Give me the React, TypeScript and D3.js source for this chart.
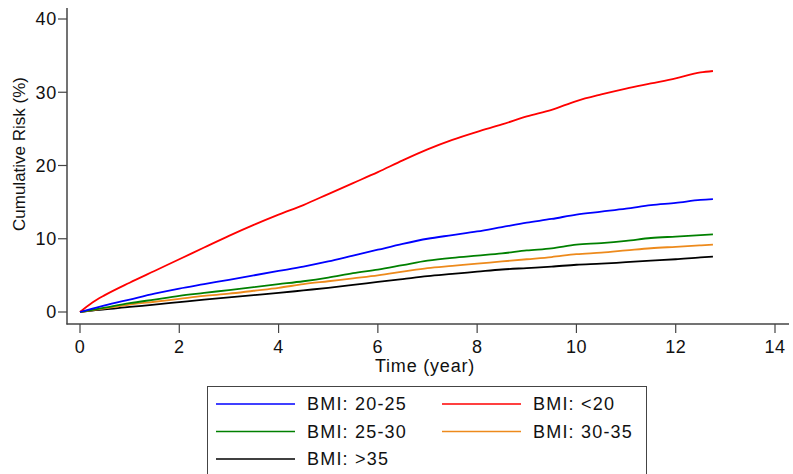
import { useEffect, useRef } from 'react';
import * as d3 from 'd3';

// follow-up time (years)
const times = [0, 0.25, 0.5, 1, 1.5, 2, 2.5, 3, 3.5, 4, 4.5, 5, 5.5, 6, 6.5, 7, 7.5, 8, 8.5, 9, 9.5, 10, 10.5, 11, 11.5, 12, 12.5, 12.75];

// cumulative risk (%) per BMI group
const bmiUnder20 = [0, 1.3, 2.3, 4.0, 5.6, 7.2, 8.8, 10.4, 11.9, 13.3, 14.6, 16.1, 17.6, 19.1, 20.7, 22.2, 23.5, 24.6, 25.6, 26.7, 27.6, 28.8, 29.7, 30.5, 31.2, 31.9, 32.7, 32.9];
const bmi20to25 = [0, 0.45, 0.9, 1.7, 2.5, 3.2, 3.8, 4.4, 5.0, 5.6, 6.2, 6.9, 7.7, 8.5, 9.3, 10.0, 10.5, 11.0, 11.6, 12.2, 12.7, 13.3, 13.7, 14.1, 14.6, 14.9, 15.3, 15.4];
const bmi25to30 = [0, 0.3, 0.6, 1.2, 1.7, 2.2, 2.6, 3.0, 3.4, 3.8, 4.2, 4.7, 5.3, 5.8, 6.4, 7.0, 7.4, 7.7, 8.0, 8.4, 8.7, 9.2, 9.4, 9.7, 10.1, 10.3, 10.5, 10.6];
const bmi30to35 = [0, 0.25, 0.5, 1.0, 1.4, 1.8, 2.2, 2.5, 2.9, 3.3, 3.8, 4.2, 4.6, 5.0, 5.5, 6.0, 6.3, 6.6, 6.9, 7.2, 7.5, 7.9, 8.1, 8.4, 8.7, 8.9, 9.1, 9.2];
const bmiOver35 = [0, 0.2, 0.35, 0.7, 1.0, 1.35, 1.7, 2.0, 2.3, 2.6, 2.95, 3.3, 3.7, 4.1, 4.5, 4.9, 5.2, 5.5, 5.8, 6.0, 6.2, 6.45, 6.6, 6.8, 7.0, 7.2, 7.45, 7.55];

const xTicks = [0, 2, 4, 6, 8, 10, 12, 14];
const yTicks = [0, 10, 20, 30, 40];

const series = [
  { label: 'BMI: 20-25', values: bmi20to25, color: '#0000ff' },
  { label: 'BMI: <20', values: bmiUnder20, color: '#ff0000' },
  { label: 'BMI: 25-30', values: bmi25to30, color: '#008000' },
  { label: 'BMI: 30-35', values: bmi30to35, color: '#ed8a1c' },
  { label: 'BMI: >35', values: bmiOver35, color: '#000000' },
];

const font = '"Liberation Sans", Arial, sans-serif';
const axisColor = '#444';

export default function App() {
  const svgRef = useRef<SVGSVGElement>(null);

  useEffect(() => {
    const svg = d3.select(svgRef.current);
    svg.selectAll('*').remove();

    const x = d3.scaleLinear().domain([0, 14]).range([80, 775]);
    const y = d3.scaleLinear().domain([0, 40]).range([312, 19]);

    // axes
    const g = svg.append('g').style('font-family', font);
    g.append('line')
      .attr('x1', 67).attr('x2', 67).attr('y1', 8).attr('y2', 324.5)
      .attr('stroke', axisColor).attr('stroke-width', 1.5);
    g.append('line')
      .attr('x1', 66.5).attr('x2', 789).attr('y1', 324).attr('y2', 324)
      .attr('stroke', axisColor).attr('stroke-width', 1.5);

    yTicks.forEach(t => {
      g.append('line')
        .attr('x1', 58).attr('x2', 67).attr('y1', y(t)).attr('y2', y(t))
        .attr('stroke', axisColor).attr('stroke-width', 1.2);
      g.append('text')
        .attr('x', 57).attr('y', y(t)).attr('dy', '0.36em')
        .attr('text-anchor', 'end')
        .style('font-size', '18px').style('letter-spacing', '0.8px').attr('fill', '#111')
        .text(t);
    });

    xTicks.forEach(t => {
      g.append('text')
        .attr('x', x(t)).attr('y', 353)
        .attr('text-anchor', 'middle')
        .style('font-size', '18px').style('letter-spacing', '0.5px').attr('fill', '#111')
        .text(t);
      g.append('line')
        .attr('x1', x(t)).attr('x2', x(t)).attr('y1', 324).attr('y2', 333)
        .attr('stroke', axisColor).attr('stroke-width', 1.2);
    });

    g.append('text')
      .attr('x', 425).attr('y', 372)
      .attr('text-anchor', 'middle')
      .style('font-size', '18px').style('letter-spacing', '0.8px').attr('fill', '#111')
      .text('Time (year)');

    g.append('text')
      .attr('transform', 'translate(25, 154) rotate(-90)')
      .attr('text-anchor', 'middle')
      .style('font-size', '17px').attr('fill', '#111')
      .text('Cumulative Risk (%)');

    // curves
    const line = d3.line<number>()
      .x((_, i) => x(times[i]))
      .y(v => y(v))
      .curve(d3.curveMonotoneX);

    [...series].reverse().forEach(s => {
      svg.append('path')
        .datum(s.values)
        .attr('d', line)
        .attr('fill', 'none')
        .attr('stroke', s.color)
        .attr('stroke-width', 1.8)
        .attr('stroke-linejoin', 'round');
    });

    // legend
    const legend = svg.append('g').style('font-family', font);
    legend.append('rect')
      .attr('x', 207.5).attr('y', 386.5).attr('width', 439).attr('height', 100)
      .attr('fill', 'white').attr('stroke', axisColor).attr('stroke-width', 1);

    const items = legend.selectAll('g.item')
      .data(series)
      .enter()
      .append('g')
      .attr('class', 'item')
      .attr('transform', (_, i) => `translate(${i % 2 === 0 ? 216 : 442}, ${404 + Math.floor(i / 2) * 27.5})`);

    items.append('line')
      .attr('x1', 0).attr('x2', 79).attr('y1', 0).attr('y2', 0)
      .attr('stroke', d => d.color).attr('stroke-width', 1.6);

    items.append('text')
      .attr('x', 91).attr('y', 0).attr('dy', '0.36em')
      .style('font-size', '18px').style('letter-spacing', '1.2px').attr('fill', '#111')
      .text(d => d.label);
  }, []);

  return (
    <svg
      ref={svgRef}
      width={793}
      height={474}
      style={{ position: 'absolute', left: 0, top: 0, background: 'white' }}
    />
  );
}
